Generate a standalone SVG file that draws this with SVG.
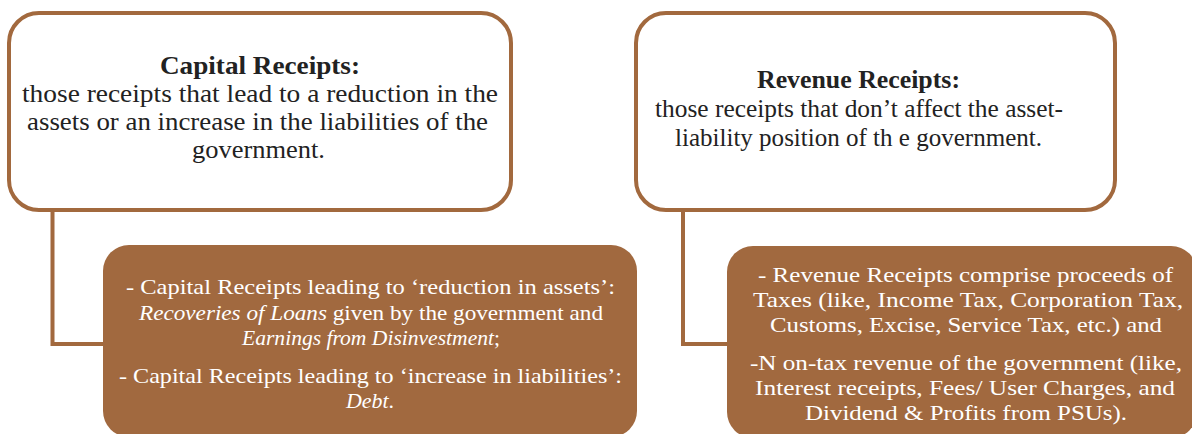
<svg xmlns="http://www.w3.org/2000/svg" width="1192" height="434" viewBox="0 0 1192 434">
<style>
.outline{fill:#ffffff;stroke:#A2693E;stroke-width:4}
.filled{fill:#A1693F}
.conn{fill:none;stroke:#A2693E;stroke-width:4}
.dark{font-family:'Liberation Serif',serif;font-size:25px;fill:#222222;text-anchor:middle}
.light{font-family:'Liberation Serif',serif;font-size:21.5px;fill:#ffffff;text-anchor:middle}
.b{font-weight:bold}
.i{font-style:italic}
</style>
<rect width="1192" height="434" fill="#ffffff"/>
<g id="connectors">
<path class="conn" d="M52.5,210 V344 H110"/>
<path class="conn" d="M683,210 V344 H735"/>
</g>
<g id="capital">
<rect class="outline" x="9" y="13" width="502" height="197" rx="30" ry="30"/>
<text class="dark b" x="260" y="74" textLength="200" lengthAdjust="spacingAndGlyphs">Capital Receipts:</text>
<text class="dark" x="260" y="102" textLength="476" lengthAdjust="spacingAndGlyphs">those receipts that lead to a reduction in the</text>
<text class="dark" x="257.5" y="130" textLength="461" lengthAdjust="spacingAndGlyphs">assets or an increase in the liabilities of the</text>
<text class="dark" x="258.5" y="158" textLength="133" lengthAdjust="spacingAndGlyphs">government.</text>
</g>
<g id="revenue">
<rect class="outline" x="636" y="13" width="479" height="197" rx="30" ry="30"/>
<text class="dark b" x="858.5" y="88" textLength="203" lengthAdjust="spacingAndGlyphs">Revenue Receipts:</text>
<text class="dark" x="859" y="117" textLength="408" lengthAdjust="spacingAndGlyphs">those receipts that don&#8217;t affect the asset-</text>
<text class="dark" x="858.5" y="146" textLength="367" lengthAdjust="spacingAndGlyphs">liability position of th e government.</text>
</g>
<g id="capital-detail">
<rect class="filled" x="103" y="245" width="534" height="192" rx="26" ry="26"/>
<text class="light" x="370.5" y="294" textLength="489" lengthAdjust="spacingAndGlyphs">- Capital Receipts leading to &#8216;reduction in assets&#8217;:</text>
<text class="light" x="371" y="320" textLength="464" lengthAdjust="spacingAndGlyphs"><tspan class="i">Recoveries of Loans</tspan> given by the government and</text>
<text class="light" x="371" y="345" textLength="258" lengthAdjust="spacingAndGlyphs"><tspan class="i">Earnings from Disinvestment</tspan>;</text>
<text class="light" x="370.5" y="383" textLength="503" lengthAdjust="spacingAndGlyphs">- Capital Receipts leading to &#8216;increase in liabilities&#8217;:</text>
<text class="light" x="370" y="408" textLength="48" lengthAdjust="spacingAndGlyphs"><tspan class="i">Debt</tspan>.</text>
</g>
<g id="revenue-detail">
<rect class="filled" x="727" y="246" width="470" height="192" rx="26" ry="26"/>
<text class="light" x="965.5" y="282" textLength="415" lengthAdjust="spacingAndGlyphs">- Revenue Receipts comprise proceeds of</text>
<text class="light" x="968" y="307" textLength="430" lengthAdjust="spacingAndGlyphs">Taxes (like, Income Tax, Corporation Tax,</text>
<text class="light" x="966" y="332" textLength="392" lengthAdjust="spacingAndGlyphs">Customs, Excise, Service Tax, etc.) and</text>
<text class="light" x="966" y="370" textLength="432" lengthAdjust="spacingAndGlyphs">-N on-tax revenue of the government (like,</text>
<text class="light" x="965" y="395" textLength="420" lengthAdjust="spacingAndGlyphs">Interest receipts, Fees/ User Charges, and</text>
<text class="light" x="966" y="420" textLength="322" lengthAdjust="spacingAndGlyphs">Dividend &amp; Profits from PSUs).</text>
</g>
</svg>
